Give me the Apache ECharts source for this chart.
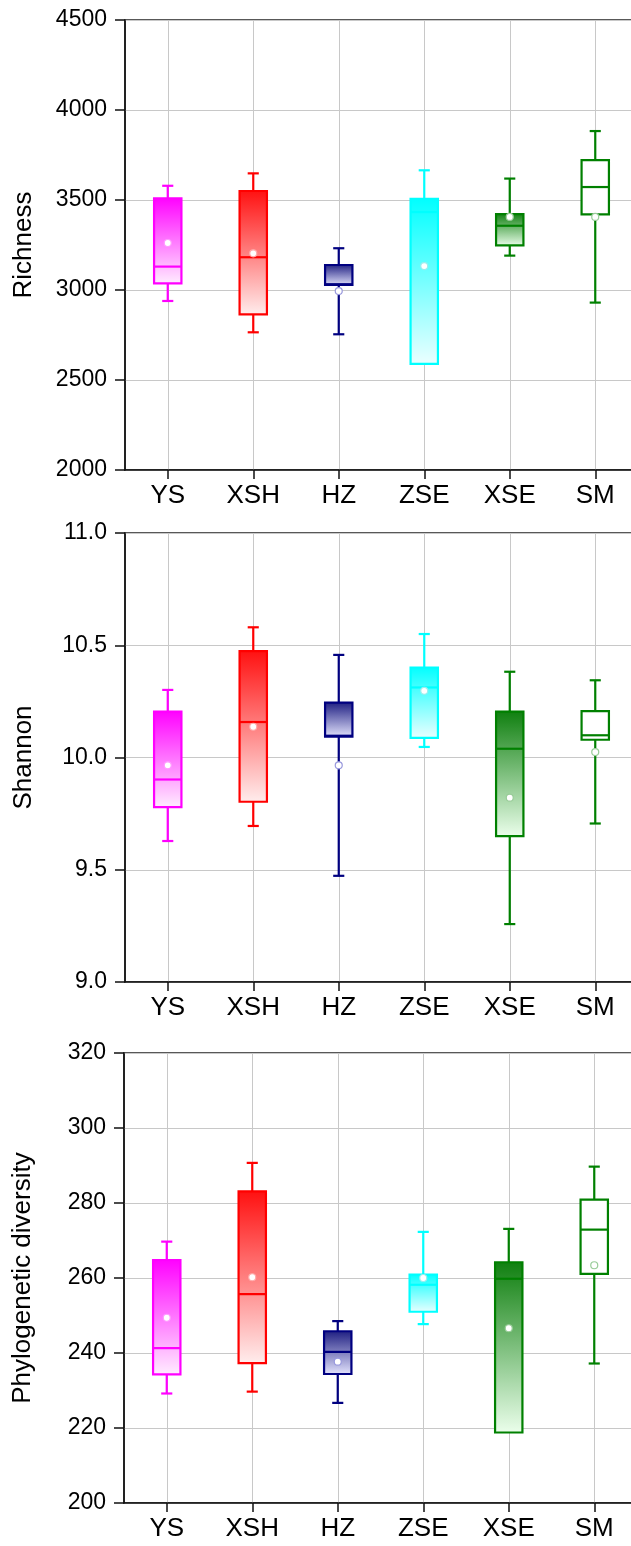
<!DOCTYPE html>
<html>
<head>
<meta charset="utf-8">
<script src="https://cdn.jsdelivr.net/npm/echarts@6/dist/echarts.min.js"></script>
<style>
  html, body { margin: 0; padding: 0; background: #fff; }
  #main { width: 631px; height: 1546px; }
</style>
</head>
<body>
<div id="main"></div>
<script>
// sites along x
const categories = ['YS', 'XSH', 'HZ', 'ZSE', 'XSE', 'SM'];

// [min, Q1, median, Q3, max] per site
const richness = [
  [2939, 3037, 3130, 3509, 3579],
  [2765, 2865, 3182, 3550, 3648],
  [2754, 3028, 3032, 3139, 3232],
  [2600, 2590, 3433, 3506, 3665],
  [3191, 3248, 3357, 3422, 3619],
  [2930, 3420, 3572, 3722, 3883]
];
const richnessMean = [3261, 3204, 2994, 3133, 3406, 3406];

const shannon = [
  [9.628, 9.779, 9.902, 10.204, 10.301],
  [9.695, 9.803, 10.158, 10.474, 10.580],
  [9.473, 10.093, 10.097, 10.244, 10.457],
  [10.047, 10.087, 10.312, 10.401, 10.550],
  [9.258, 9.650, 10.039, 10.204, 10.382],
  [9.706, 10.079, 10.099, 10.207, 10.344]
];
const shannonMean = [9.965, 10.137, 9.965, 10.297, 9.821, 10.024];

const phylo = [
  [229.2, 234.3, 241.3, 264.8, 269.7],
  [229.7, 237.3, 255.7, 283.1, 290.7],
  [226.7, 234.4, 240.3, 245.8, 248.5],
  [247.7, 251.0, 258.2, 260.9, 272.3],
  [219.9, 218.8, 259.8, 264.2, 273.1],
  [237.2, 261.1, 272.9, 280.9, 289.7]
];
const phyloMean = [249.4, 260.2, 237.7, 260.0, 246.6, 263.4];

// line colour, gradient top, gradient bottom, mean-dot ring
const boxColors = [
  ['#ff00ff', '#ff00ff', '#ffeeff', '#ff99ff'],
  ['#ff0000', '#ff1010', '#ffeeee', '#ffaaaa'],
  ['#000080', '#1c1c80', '#e6e6ff', '#9999dd'],
  ['#00ffff', '#00ffff', '#ecffff', '#99eeee'],
  ['#008000', '#0f7f0f', '#ecffec', '#99cc99'],
  ['#008000', null, null, '#99cc99']
];

function toRows(stats, means) {
  return stats.map(function (s, i) {
    return [i].concat(s).concat([means[i]]);
  });
}

function renderBox(params, api) {
  const i = api.value(0);
  const c = boxColors[params.dataIndex];
  const band = api.size([1, 0])[0];
  const boxW = band * 0.32;
  const capW = band * 0.13;
  const pMin = api.coord([i, api.value(1)]);
  const pQ1 = api.coord([i, api.value(2)]);
  const pMed = api.coord([i, api.value(3)]);
  const pQ3 = api.coord([i, api.value(4)]);
  const pMax = api.coord([i, api.value(5)]);
  const pMean = api.coord([i, api.value(6)]);
  const cx = pMin[0];
  const line = { stroke: c[0], lineWidth: 2.2 };
  const fill = c[1]
    ? new echarts.graphic.LinearGradient(0, 0, 0, 1, [
        { offset: 0, color: c[1] },
        { offset: 1, color: c[2] }
      ])
    : '#ffffff';
  return {
    type: 'group',
    children: [
      { type: 'line', shape: { x1: cx, y1: pMax[1], x2: cx, y2: pQ3[1] }, style: line },
      { type: 'line', shape: { x1: cx, y1: pMin[1], x2: cx, y2: pQ1[1] }, style: line },
      { type: 'line', shape: { x1: cx - capW / 2, y1: pMax[1], x2: cx + capW / 2, y2: pMax[1] }, style: line },
      { type: 'line', shape: { x1: cx - capW / 2, y1: pMin[1], x2: cx + capW / 2, y2: pMin[1] }, style: line },
      {
        type: 'rect',
        shape: { x: cx - boxW / 2, y: pQ3[1], width: boxW, height: pQ1[1] - pQ3[1] },
        style: { fill: fill, stroke: c[0], lineWidth: 2.2 }
      },
      { type: 'line', shape: { x1: cx - boxW / 2, y1: pMed[1], x2: cx + boxW / 2, y2: pMed[1] }, style: line },
      {
        type: 'circle',
        shape: { cx: cx, cy: pMean[1], r: 3.5 },
        style: { fill: '#ffffff', stroke: c[3], lineWidth: 1.2 }
      }
    ]
  };
}

const grids = [
  { left: 125, top: 20, width: 513, height: 450 },
  { left: 125, top: 533, width: 513, height: 449 },
  { left: 124, top: 1053, width: 513, height: 450 }
];

const yDefs = [
  { name: 'Richness', min: 2000, max: 4500, interval: 500, fmt: function (v) { return v; } },
  { name: 'Shannon', min: 9, max: 11, interval: 0.5, fmt: function (v) { return v.toFixed(1); } },
  { name: 'Phylogenetic diversity', min: 200, max: 320, interval: 20, fmt: function (v) { return v; } }
];

const panels = [
  toRows(richness, richnessMean),
  toRows(shannon, shannonMean),
  toRows(phylo, phyloMean)
];

const font = 'Liberation Sans, Arial, sans-serif';
const gridLine = { show: true, lineStyle: { color: '#c8c8c8', width: 1 } };

const option = {
  backgroundColor: '#ffffff',
  animation: false,
  grid: grids.map(function (g) {
    return Object.assign({
      show: true,
      borderColor: '#222',
      borderWidth: 1.5,
      backgroundColor: 'transparent',
      containLabel: false,
      outerBoundsMode: 'none'
    }, g);
  }),
  xAxis: grids.map(function (g, k) {
    return {
      type: 'category',
      gridIndex: k,
      data: categories,
      boundaryGap: true,
      axisLine: { lineStyle: { color: '#111', width: 1.5 } },
      axisTick: { show: true, alignWithLabel: true, inside: false, length: 9, interval: 0, lineStyle: { color: '#111', width: 1.5 } },
      axisLabel: { color: '#000', fontSize: 26, fontFamily: font, margin: 13, interval: 0 },
      splitLine: Object.assign({ alignWithLabel: true, interval: 0 }, gridLine)
    };
  }),
  yAxis: yDefs.map(function (d, k) {
    return {
      type: 'value',
      gridIndex: k,
      min: d.min,
      max: d.max,
      interval: d.interval,
      name: d.name,
      nameLocation: 'middle',
      nameGap: 88,
      nameTextStyle: { color: '#000', fontSize: 26, fontFamily: font },
      axisLine: { show: true, lineStyle: { color: '#111', width: 1.5 } },
      axisTick: { show: true, inside: false, length: 10, lineStyle: { color: '#111', width: 1.5 } },
      axisLabel: { color: '#000', fontSize: 23, fontFamily: font, margin: 18, formatter: d.fmt },
      splitLine: gridLine
    };
  }),
  series: panels.map(function (rows, k) {
    return {
      type: 'custom',
      xAxisIndex: k,
      yAxisIndex: k,
      renderItem: renderBox,
      encode: { x: 0, y: [1, 2, 3, 4, 5, 6] },
      data: rows,
      clip: false,
      z: 5
    };
  })
};

const chart = echarts.init(document.getElementById('main'));
chart.setOption(option);
</script>
</body>
</html>
